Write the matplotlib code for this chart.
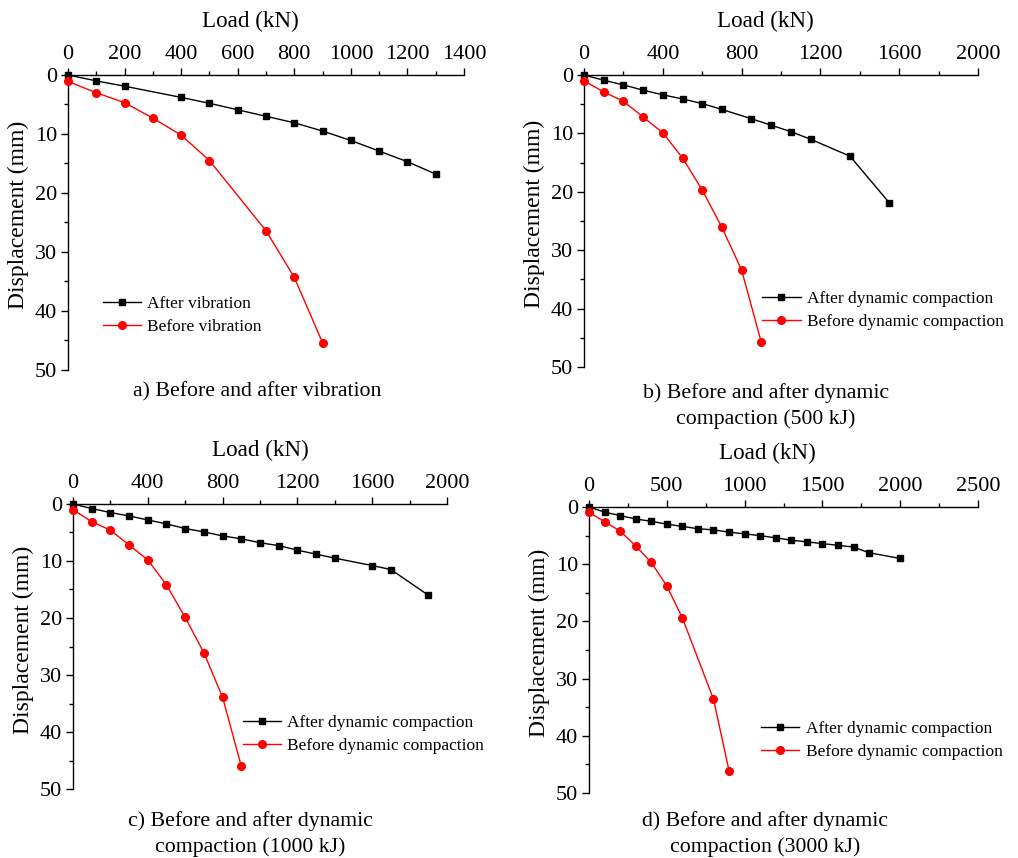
import numpy as np
import matplotlib
matplotlib.use("Agg")
from matplotlib import pyplot as plt
from matplotlib.ticker import MultipleLocator

plt.rcParams['font.family'] = ['Liberation Serif', 'DejaVu Serif']
plt.rcParams['mathtext.fontset'] = 'stix'

# a) before / after vibration
a_after_load = [0, 100, 200, 400, 500, 600, 700, 800, 900, 1000, 1100, 1200, 1300]
a_after_disp = [0, 1.0, 1.9, 3.8, 4.8, 5.9, 7.0, 8.1, 9.5, 11.1, 12.9, 14.7, 16.8]
a_before_load = [0, 100, 200, 300, 400, 500, 700, 800, 900]
a_before_disp = [1.1, 3.0, 4.7, 7.3, 10.2, 14.5, 26.4, 34.3, 45.4]

# b) 500 kJ
b_after_load = [0, 100, 200, 300, 400, 500, 600, 700, 850, 950, 1050, 1150, 1350, 1550]
b_after_disp = [0, 0.9, 1.7, 2.6, 3.4, 4.1, 4.9, 5.9, 7.5, 8.6, 9.7, 11.0, 13.9, 21.9]
b_before_load = [0, 100, 200, 300, 400, 500, 600, 700, 800, 900]
b_before_disp = [1.0, 2.9, 4.5, 7.2, 9.9, 14.2, 19.7, 26.1, 33.4, 45.8]

# c) 1000 kJ
c_after_load = [0, 100, 200, 300, 400, 500, 600, 700, 800, 900, 1000, 1100, 1200,
                1300, 1400, 1600, 1700, 1900]
c_after_disp = [0, 0.8, 1.5, 2.1, 2.8, 3.5, 4.3, 4.9, 5.6, 6.1, 6.8, 7.3, 8.1,
                8.8, 9.5, 10.8, 11.5, 16.0]
c_before_load = [0, 100, 200, 300, 400, 500, 600, 700, 800, 900]
c_before_disp = [1.0, 3.1, 4.6, 7.2, 9.8, 14.2, 19.9, 26.1, 33.9, 46.0]

# d) 3000 kJ
d_after_load = [0, 100, 200, 300, 400, 500, 600, 700, 800, 900, 1000, 1100, 1200,
                1300, 1400, 1500, 1600, 1700, 1800, 2000]
d_after_disp = [0, 0.9, 1.5, 2.1, 2.5, 3.0, 3.4, 3.8, 4.0, 4.4, 4.7, 5.0, 5.4,
                5.8, 6.1, 6.4, 6.7, 7.0, 8.0, 9.0]
d_before_load = [0, 100, 200, 300, 400, 500, 600, 800, 900]
d_before_disp = [0.9, 2.6, 4.2, 6.8, 9.7, 13.8, 19.4, 33.6, 46.1]

panels = [
    dict(rect=[0.0668, 0.5688, 0.389, 0.3438], xmax=1400, xstep=200,
         after=(a_after_load, a_after_disp), before=(a_before_load, a_before_disp),
         labels=("After vibration", "Before vibration"), leg=(0.07, 0.275), xl=0.46,
         caption="a) Before and after vibration", cap_xy=(257, 392)),
    dict(rect=[0.5737, 0.5723, 0.387, 0.3403], xmax=2000, xstep=400,
         after=(b_after_load, b_after_disp), before=(b_before_load, b_before_disp),
         labels=("After dynamic compaction", "Before dynamic compaction"),
         leg=(0.435, 0.285), xl=0.46,
         caption="b) Before and after dynamic\ncompaction (500 kJ)", cap_xy=(766, 406)),
    dict(rect=[0.0717, 0.0804, 0.3674, 0.3322], xmax=2000, xstep=400,
         after=(c_after_load, c_after_disp), before=(c_before_load, c_before_disp),
         labels=("After dynamic compaction", "Before dynamic compaction"),
         leg=(0.435, 0.285), xl=0.5,
         caption="c) Before and after dynamic\ncompaction (1000 kJ)", cap_xy=(250, 834)),
    dict(rect=[0.5786, 0.0758, 0.3821, 0.3333], xmax=2500, xstep=500,
         after=(d_after_load, d_after_disp), before=(d_before_load, d_before_disp),
         labels=("After dynamic compaction", "Before dynamic compaction"),
         leg=(0.425, 0.275), xl=0.458,
         caption="d) Before and after dynamic\ncompaction (3000 kJ)", cap_xy=(765, 834)),
]

W, H = 1018, 858
fig = plt.figure(figsize=(W / 100, H / 100), dpi=100)

for p in panels:
    ax = fig.add_axes(p['rect'])
    ax.plot(*p['after'], color='black', lw=1, marker='s', ms=5, label=p['labels'][0],
            clip_on=False, zorder=3)
    ax.plot(*p['before'], color='#ff0000', lw=1, marker='o', ms=5.5, label=p['labels'][1],
            clip_on=False, zorder=3)
    ax.set_xlim(0, p['xmax'])
    ax.set_ylim(50, 0)
    ax.xaxis.tick_top()
    ax.xaxis.set_label_position('top')
    ax.xaxis.set_major_locator(MultipleLocator(p['xstep']))
    ax.xaxis.set_minor_locator(MultipleLocator(p['xstep'] / 2))
    ax.yaxis.set_major_locator(MultipleLocator(10))
    ax.yaxis.set_minor_locator(MultipleLocator(5))
    for s in ['right', 'bottom']:
        ax.spines[s].set_visible(False)
    for s in ['left', 'top']:
        ax.spines[s].set_linewidth(1.0)
    ax.tick_params(which='major', direction='out', length=5, width=1, labelsize=16, pad=3)
    ax.tick_params(which='minor', direction='out', length=3, width=1)
    ax.set_xlabel("Load (kN)", fontsize=16.7, labelpad=13)
    ax.set_ylabel("Displacement (mm)", fontsize=17, labelpad=4)
    ax.xaxis.label.set_x(p['xl'])
    ax.yaxis.label.set_y(0.525)
    ax.legend(loc='upper left', bbox_to_anchor=p['leg'], frameon=False, fontsize=12.5,
              handlelength=2.2, handletextpad=0.35, labelspacing=0.38, borderaxespad=0)
    cx, cy = p['cap_xy']
    fig.text(cx / W, 1 - cy / H, p['caption'], ha='center', va='center', fontsize=15.7,
             linespacing=1.42)

fig.savefig("out.png", dpi=100)
